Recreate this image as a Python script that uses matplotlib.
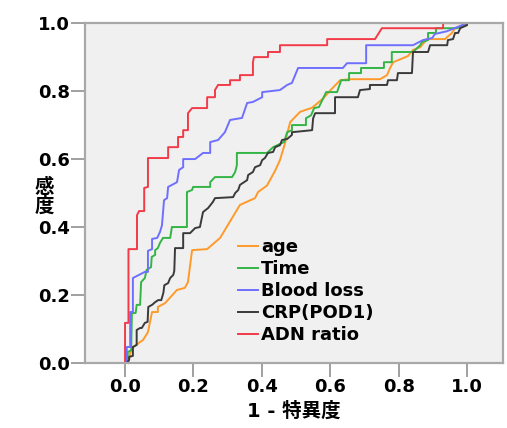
import matplotlib.pyplot as plt

plt.rcParams['font.family'] = ['DejaVu Sans', 'Noto Sans CJK JP']
plt.rcParams['font.weight'] = 'bold'

# ROC curves: 1 - specificity, sensitivity
age_fpr = [0.0, 0.01, 0.015, 0.024, 0.053, 0.067, 0.079, 0.096, 0.096, 0.117, 0.152, 0.175, 0.184,
           0.196, 0.24, 0.278, 0.336, 0.38, 0.389, 0.415, 0.439, 0.453, 0.468, 0.474, 0.483, 0.512,
           0.547, 0.58, 0.601, 0.629, 0.658, 0.746, 0.766, 0.775, 0.784, 0.813, 0.827, 0.842, 0.863,
           0.883, 0.936, 0.942, 0.956, 0.965, 1.0, 1.0]
age_tpr = [0.0, 0.0, 0.029, 0.047, 0.068, 0.091, 0.15, 0.15, 0.165, 0.176, 0.215, 0.221, 0.238,
           0.332, 0.335, 0.368, 0.465, 0.485, 0.503, 0.522, 0.566, 0.597, 0.647, 0.675, 0.709, 0.739,
           0.751, 0.779, 0.803, 0.832, 0.835, 0.835, 0.847, 0.868, 0.885, 0.897, 0.903, 0.921, 0.929,
           0.953, 0.953, 0.959, 0.971, 0.985, 0.994, 1.0]

time_fpr = [0.0, 0.008, 0.008, 0.018, 0.02, 0.031, 0.034, 0.044, 0.047, 0.058, 0.063, 0.076, 0.078,
            0.088, 0.088, 0.096, 0.102, 0.111, 0.132, 0.137, 0.181, 0.181, 0.196, 0.199, 0.249, 0.249,
            0.263, 0.313, 0.322, 0.327, 0.327, 0.415, 0.433, 0.465, 0.474, 0.488, 0.488, 0.529, 0.529,
            0.544, 0.553, 0.567, 0.588, 0.62, 0.632, 0.655, 0.655, 0.69, 0.69, 0.757, 0.757, 0.78,
            0.78, 0.842, 0.863, 0.868, 0.886, 0.886, 0.909, 0.909, 0.971, 1.0]
time_tpr = [0.0, 0.0, 0.032, 0.038, 0.147, 0.147, 0.171, 0.171, 0.238, 0.25, 0.274, 0.282, 0.312,
            0.318, 0.332, 0.338, 0.353, 0.368, 0.368, 0.4, 0.4, 0.503, 0.509, 0.518, 0.518, 0.532,
            0.547, 0.547, 0.562, 0.582, 0.618, 0.618, 0.635, 0.65, 0.679, 0.685, 0.7, 0.7, 0.72,
            0.729, 0.75, 0.753, 0.797, 0.797, 0.832, 0.832, 0.853, 0.853, 0.868, 0.868, 0.885, 0.885,
            0.915, 0.915, 0.935, 0.944, 0.95, 0.971, 0.971, 0.985, 0.985, 1.0]

blood_fpr = [0.0, 0.005, 0.005, 0.015, 0.015, 0.023, 0.023, 0.058, 0.067, 0.067, 0.079, 0.079, 0.094,
             0.102, 0.108, 0.114, 0.123, 0.126, 0.152, 0.158, 0.17, 0.17, 0.205, 0.228, 0.249, 0.249,
             0.272, 0.292, 0.307, 0.342, 0.357, 0.374, 0.401, 0.401, 0.453, 0.474, 0.488, 0.506, 0.637,
             0.649, 0.705, 0.705, 0.842, 0.871, 0.898, 0.906, 0.941, 1.0]
blood_tpr = [0.0, 0.0, 0.047, 0.047, 0.15, 0.15, 0.25, 0.268, 0.268, 0.33, 0.335, 0.365, 0.368,
             0.385, 0.405, 0.479, 0.485, 0.518, 0.532, 0.568, 0.576, 0.6, 0.6, 0.618, 0.618, 0.65,
             0.656, 0.679, 0.715, 0.721, 0.765, 0.768, 0.782, 0.797, 0.803, 0.818, 0.824, 0.868, 0.868,
             0.882, 0.882, 0.935, 0.935, 0.95, 0.956, 0.968, 0.976, 1.0]

crp_fpr = [0.0, 0.005, 0.012, 0.012, 0.023, 0.023, 0.034, 0.034, 0.044, 0.049, 0.058, 0.066, 0.068,
           0.079, 0.088, 0.097, 0.106, 0.112, 0.115, 0.126, 0.132, 0.141, 0.144, 0.146, 0.146, 0.17,
           0.17, 0.19, 0.205, 0.219, 0.228, 0.243, 0.257, 0.263, 0.316, 0.322, 0.331, 0.336, 0.357,
           0.36, 0.374, 0.38, 0.395, 0.401, 0.409, 0.418, 0.433, 0.439, 0.453, 0.459, 0.474, 0.488,
           0.488, 0.547, 0.55, 0.556, 0.614, 0.614, 0.681, 0.687, 0.716, 0.716, 0.766, 0.769, 0.795,
           0.798, 0.839, 0.842, 0.886, 0.892, 0.942, 0.944, 0.959, 0.965, 0.974, 0.98, 1.0, 1.0]
crp_tpr = [0.0, 0.0, 0.009, 0.018, 0.021, 0.047, 0.053, 0.097, 0.103, 0.103, 0.118, 0.121, 0.165,
           0.171, 0.179, 0.185, 0.185, 0.206, 0.229, 0.235, 0.25, 0.259, 0.271, 0.332, 0.338, 0.338,
           0.382, 0.382, 0.397, 0.4, 0.444, 0.456, 0.474, 0.485, 0.488, 0.5, 0.509, 0.524, 0.538,
           0.553, 0.562, 0.576, 0.582, 0.597, 0.603, 0.618, 0.621, 0.635, 0.641, 0.656, 0.659, 0.671,
           0.679, 0.685, 0.72, 0.735, 0.735, 0.782, 0.782, 0.803, 0.806, 0.818, 0.818, 0.832, 0.832,
           0.853, 0.853, 0.915, 0.915, 0.935, 0.935, 0.95, 0.953, 0.971, 0.971, 0.985, 0.994, 1.0]

adn_fpr = [0.0, 0.0, 0.01, 0.01, 0.035, 0.035, 0.041, 0.056, 0.056, 0.067, 0.067, 0.126, 0.126,
           0.155, 0.155, 0.17, 0.17, 0.184, 0.184, 0.196, 0.24, 0.24, 0.263, 0.263, 0.272, 0.307,
           0.307, 0.336, 0.336, 0.374, 0.374, 0.377, 0.418, 0.418, 0.453, 0.453, 0.591, 0.591, 0.731,
           0.751, 0.93, 0.93, 1.0]
adn_tpr = [0.0, 0.118, 0.118, 0.335, 0.335, 0.435, 0.447, 0.447, 0.515, 0.518, 0.603, 0.603, 0.635,
           0.635, 0.665, 0.665, 0.685, 0.685, 0.735, 0.75, 0.75, 0.782, 0.782, 0.803, 0.818, 0.818,
           0.832, 0.832, 0.847, 0.847, 0.885, 0.9, 0.9, 0.915, 0.915, 0.935, 0.935, 0.953, 0.953,
           0.985, 0.985, 1.0, 1.0]

labels = ['age', 'Time', 'Blood loss', 'CRP(POD1)', 'ADN ratio']
colors = ['#FF9A2A', '#33B545', '#6F6FFF', '#3A3A3A', '#F23A48']

fig = plt.figure(figsize=(5.07, 4.28), dpi=100)
ax = fig.add_axes([0.1677, 0.1519, 0.8243, 0.7941])
ax.set_facecolor('#F0F0F0')

series = [(age_fpr, age_tpr), (time_fpr, time_tpr), (blood_fpr, blood_tpr),
          (crp_fpr, crp_tpr), (adn_fpr, adn_tpr)]
for (fx, ty), lab, col in zip(series, labels, colors):
    ax.plot(fx, ty, color=col, linewidth=1.4, label=lab)

ax.set_xlim(-0.117, 1.105)
ax.set_ylim(0, 1.0)
ax.set_xticks([0.0, 0.2, 0.4, 0.6, 0.8, 1.0])
ax.set_yticks([0.0, 0.2, 0.4, 0.6, 0.8, 1.0])
ax.set_xticklabels(['0.0', '0.2', '0.4', '0.6', '0.8', '1.0'])
ax.set_yticklabels(['0.0', '0.2', '0.4', '0.6', '0.8', '1.0'])
ax.tick_params(axis='both', length=10, width=1.2, color='#909090', labelsize=13, pad=1)

for s in ax.spines.values():
    s.set_color('#A8A8A8')
    s.set_linewidth(1.6)

ax.set_xlabel('1 - 特異度', fontsize=14, fontweight='bold', labelpad=4,
              family=['DejaVu Sans', 'Noto Sans CJK JP'])
fig.text(0.087, 0.54, '感\n度', fontsize=14, fontweight='bold', ha='center', va='center',
         linespacing=1.0, family=['Noto Sans CJK JP'])

leg = ax.legend(loc='upper left', bbox_to_anchor=(0.335, 0.405), frameon=False, fontsize=13,
                handlelength=1.1, handletextpad=0.2, labelspacing=0.22, borderpad=0.2)
for line in leg.get_lines():
    line.set_linewidth(1.4)

plt.savefig('out.png', dpi=100)
